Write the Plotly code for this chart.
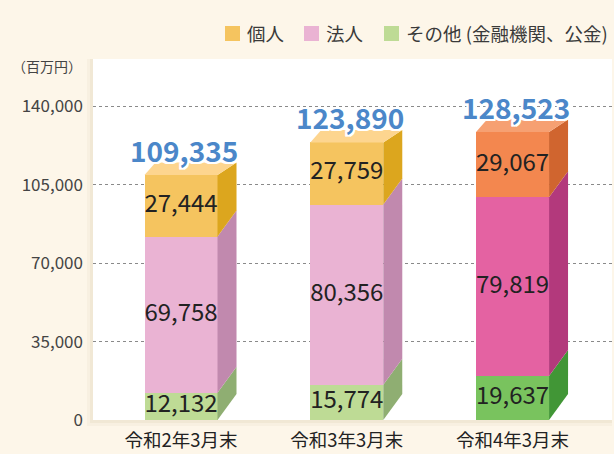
import plotly.graph_objects as go

categories = ["令和2年3月末", "令和3年3月末", "令和4年3月末"]
other_vals = [12132, 15774, 19637]      # その他 (金融機関、公金)
corp_vals = [69758, 80356, 79819]       # 法人
indiv_vals = [27444, 27759, 29067]      # 個人
totals = [109335, 123890, 128523]
y_ticks = [0, 35000, 70000, 105000, 140000]
y_ticktext = ["0", "35,000", "70,000", "105,000", "140,000"]

series_names = ["個人", "法人", "その他 (金融機関、公金)"]
legend_colors = ["#f5c45f", "#eab3d3", "#bedb95"]

# per-bar colours (front, side) ; last bar uses vivid palette
other_front = ["#bedb95", "#bedb95", "#79c35e"]
other_side = ["#8fae72", "#8fae72", "#419636"]
corp_front = ["#eab3d3", "#eab3d3", "#e462a2"]
corp_side = ["#c189ae", "#c189ae", "#b3397c"]
indiv_front = ["#f5c45f", "#f5c45f", "#f3874f"]
indiv_side = ["#dca61e", "#dca61e", "#d0652f"]
indiv_top = ["#fdd58f", "#fdd58f", "#f6a072"]

FONT = "Noto Sans CJK JP"
W_PX, H_PX = 614, 454
ML, MR, MT, MB = 93, 2, 59, 34
plot_w = W_PX - ML - MR
plot_h = H_PX - MT - MB
X_RANGE = [-0.531, 2.600]
Y_RANGE = [0, 161100]
px_x = (X_RANGE[1] - X_RANGE[0]) / plot_w   # data units per px
px_y = (Y_RANGE[1] - Y_RANGE[0]) / plot_h

BAR_W = 73 * px_x
DX = 19 * px_x
DXL = 11 * px_x
DY_SIDE = 26 * px_y
DY_TOP = 12.5 * px_y

xs = list(range(len(categories)))

fig = go.Figure()

for name, vals, cols in [(series_names[2], other_vals, other_front),
                         (series_names[1], corp_vals, corp_front),
                         (series_names[0], indiv_vals, indiv_front)]:
    fig.add_trace(go.Bar(x=xs, y=vals, width=BAR_W, marker=dict(color=cols, line=dict(width=0)),
                         name=name, showlegend=False, hoverinfo="skip"))

# 3D side faces and top faces
stacks = [other_vals, corp_vals, indiv_vals]
side_cols = [other_side, corp_side, indiv_side]
for i in xs:
    xr = i + BAR_W / 2
    xl = i - BAR_W / 2
    base = 0
    for s, vals in enumerate(stacks):
        top = base + vals[i]
        is_top = (s == len(stacks) - 1)
        dy_top = DY_TOP if is_top else DY_SIDE
        px_ = [xr, xr + DX, xr + DX, xr, xr]
        py_ = [base, base + DY_SIDE, top + dy_top, top, base]
        fig.add_trace(go.Scatter(x=px_, y=py_, fill="toself", fillcolor=side_cols[s][i],
                                 mode="lines", line=dict(width=0), showlegend=False,
                                 hoverinfo="skip"))
        base = top
    fig.add_trace(go.Scatter(x=[xl, xr, xr + DX, xl + DXL, xl],
                             y=[base, base, base + DY_TOP, base + DY_TOP, base],
                             fill="toself", fillcolor=indiv_top[i], mode="lines",
                             line=dict(width=0), showlegend=False, hoverinfo="skip"))

# segment value labels
lab_x, lab_y, lab_t = [], [], []
for i in xs:
    base = 0
    for vals in stacks:
        lab_x.append(i)
        lab_y.append(base + vals[i] / 2)
        lab_t.append(f"{vals[i]:,}")
        base += vals[i]
fig.add_trace(go.Scatter(x=lab_x, y=lab_y, text=lab_t, mode="text",
                         textfont=dict(family=FONT, size=24, color="#222222"),
                         showlegend=False, hoverinfo="skip"))

outline = ", ".join(f"{a}px {b}px 0 #ffffff" for a, b in
                    [(2, 0), (-2, 0), (0, 2), (0, -2), (2, 2), (-2, -2), (2, -2), (-2, 2)])
for i, t in enumerate(totals):
    fig.add_annotation(x=i, y=t, text=f"{t:,}", showarrow=False, yshift=25, xshift=3,
                       font=dict(family=FONT, size=28, color="#4b87c9", weight="bold",
                                 shadow=outline))

fig.add_annotation(xref="paper", yref="paper", x=0, y=1, xanchor="right", yanchor="middle",
                   xshift=-9, yshift=-7, text="（百万円）", showarrow=False,
                   font=dict(family=FONT, size=14, color="#444444"))

# legend drawn in layout (squares + labels), positioned in pixels above the plot
def pxx(p):
    return (p - ML) / plot_w

def pxy(p):
    return (H_PX - MB - p) / plot_h

legend_sq_left = [225, 304, 384]
for name, c, left in zip(series_names, legend_colors, legend_sq_left):
    fig.add_shape(type="rect", xref="paper", yref="paper",
                  x0=pxx(left), x1=pxx(left + 15), y0=pxy(41), y1=pxy(26),
                  fillcolor=c, line=dict(width=0))
    fig.add_annotation(xref="paper", yref="paper", x=pxx(left + 20), y=pxy(33.5),
                       xanchor="left", yanchor="middle", text=name, showarrow=False,
                       font=dict(family=FONT, size=18.5, color="#3a3a3a"))

# soft shadow around the white panel (outside the plot area)
for off, col in [(6, "#f8f0e1"), (3, "#f1e8d5")]:
    fig.add_shape(type="rect", xref="paper", yref="paper", layer="below",
                  x0=pxx(ML - off), x1=pxx(ML), y0=pxy(H_PX - MB + off), y1=pxy(MT),
                  fillcolor=col, line=dict(width=0))
    fig.add_shape(type="rect", xref="paper", yref="paper", layer="below",
                  x0=pxx(ML - off), x1=1, y0=pxy(H_PX - MB + off), y1=0,
                  fillcolor=col, line=dict(width=0))

fig.update_layout(
    width=W_PX, height=H_PX,
    margin=dict(l=ML, r=MR, t=MT, b=MB, autoexpand=False),
    paper_bgcolor="#fdf6e9", plot_bgcolor="#ffffff",
    barmode="stack",
    showlegend=False,
    xaxis=dict(range=X_RANGE, tickvals=xs, ticktext=categories, showgrid=False,
               zeroline=False, showline=False, ticks="", ticklabelstandoff=7,
               tickfont=dict(family=FONT, size=18.5, color="#222222"), fixedrange=True,
               automargin=False),
    yaxis=dict(range=Y_RANGE, tickvals=y_ticks, ticktext=y_ticktext, showgrid=True,
               gridcolor="#8a8a8a", griddash="3px,3px", gridwidth=1, zeroline=False,
               showline=False, ticks="", ticklabelstandoff=9,
               tickfont=dict(family=FONT, size=17, color="#444444"), fixedrange=True,
               automargin=False),
)

fig.write_html("out.html", config={"displayModeBar": False},
               post_script="document.body.style.margin='0';document.body.style.overflow='hidden';")
